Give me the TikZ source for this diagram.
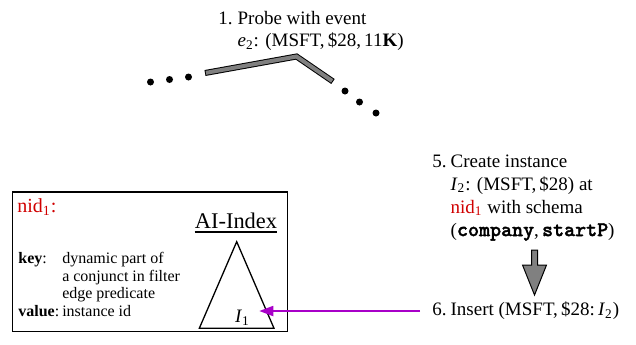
\documentclass[tikz,border=0pt]{standalone}
\usepackage{fontspec}
\setmainfont{Liberation Serif}
\newfontfamily\kwfont{lmmonolt10-bold.otf}[FakeBold=1.6]
\usetikzlibrary{positioning,arrows.meta,calc}
\definecolor{cRed}{HTML}{D00000}
\definecolor{cPurple}{HTML}{A800C8}
\definecolor{cBand}{HTML}{808080}
\newcommand{\kw}[1]{{\fontsize{10.5}{11.5}\selectfont\kwfont #1}}

\begin{document}
\begin{tikzpicture}[x=0.5pt,y=-0.5pt,
      txt/.style={inner sep=0pt,anchor=west,align=left,font=\fontsize{9.5}{11.5}\selectfont},
      dot/.style={fill=black},
      parr/.style={-{Triangle[length=7pt,width=5pt]},cPurple,line width=0.9pt}]
    \useasboundingbox (0,0) rectangle (636,344);
    % probing path
    \node[txt,font=\fontsize{9.5}{11}\selectfont] (probe) at (218,31)
      {\begin{tabular}{@{}l@{\hspace{2.5pt}}l@{}}1. & Probe with event\\
        & \textit{e}\textsubscript{2}: (MSFT,\,\$28,\,11\textbf{K})\end{tabular}};
    \foreach \x/\y in {150.5/82,169.5/79.5,188.5/77,345/91,359.5/102,376/113}
      \fill[dot] (\x,\y) circle[radius=1.75pt];
    \draw[line width=3pt,miter limit=10] (205,73) -- (296.5,56.5) -- (333,81.5);
    \draw[line width=2pt,cBand,miter limit=10,shorten <=0.5pt,shorten >=0.5pt]
      (205,73) -- (296.5,56.5) -- (333,81.5);
    % node box
    \draw[line width=0.75pt] (12.5,192) rectangle (287.5,331.5);
    \node[txt,text=cRed,font=\fontsize{10}{12}\selectfont] (nid) at (17,207) {nid\textsubscript{1}:};
    \node[txt,font=\fontsize{8}{8.85}\selectfont] (keyval) at (18,286.5)
      {\begin{tabular}{@{}l@{\hspace{1.5pt}}l@{}}\textbf{key}: & dynamic part of\\
        & a conjunct in filter\\ & edge predicate\\
        \textbf{value}: & instance id\end{tabular}};
    \node[inner sep=0pt,font=\fontsize{11.2}{13}\selectfont] (aiidx) at (236,221) {AI-Index};
    \draw[line width=1pt] ([yshift=-1.6pt]aiidx.south west) -- ([yshift=-1.6pt]aiidx.south east);
    \draw[line width=0.65pt] (236.7,241.7) -- (199.3,328.3) -- (274,328.3) -- cycle;
    \node[inner ysep=0pt,inner xsep=4.5pt,font=\fontsize{9.5}{11}\selectfont] (i1) at (242.5,318)
      {\textit{I}\textsubscript{1}};
    % new instance
    \node[txt] (create) at (432,197)
      {\begin{tabular}{@{}l@{\hspace{2pt}}l@{}}5. & Create instance\\
        & \textit{I}\textsubscript{2}: (MSFT,\,\$28) at\\
        & \textcolor{cRed}{nid\textsubscript{1}} with schema\\
        & (\kw{company},\,\kw{startP})\end{tabular}};
    \node[txt] (ins) at (432,311)
      {6.\hspace{2pt}Insert (MSFT,\,\$28:\,\textit{I}\textsubscript{2})};
    \coordinate (gtop) at (534.5,250);
    \coordinate (gtip) at (534.5,295);
    \filldraw[fill=cBand,line width=0.5pt] ($(gtop)+(-3,0)$) -- ++(6,0) -- ++(0,15) -- ++(9,0)
      -- (gtip) -- ++(-12,-30) -- ++(9,0) -- cycle;
    \draw[parr,shorten <=6pt] (ins.west) -- (ins.west -| i1.east);
  \end{tikzpicture}
\end{document}
